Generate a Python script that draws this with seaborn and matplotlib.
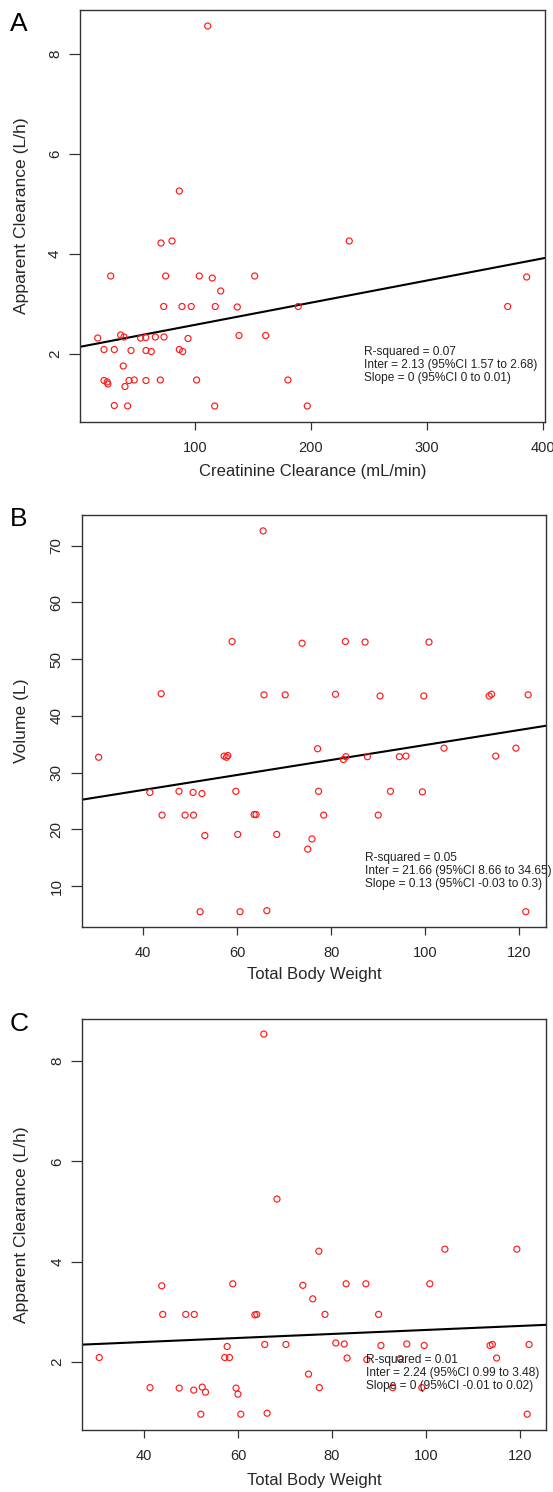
import matplotlib
matplotlib.use("Agg")
import matplotlib.pyplot as plt
import seaborn as sns
import pandas as pd

# ---------------- data ----------------
# Panel A: creatinine clearance vs apparent clearance
a_crcl = [111, 86.5, 70.7, 80.2, 27.3, 74.7, 103.7, 114.9, 122.2, 151.5,
          73, 88.8, 96.8, 117.5, 136.5, 16.1, 35.9, 38.7, 53.1, 57.5,
          65.8, 73.3, 94, 138, 161, 21.5, 30.4, 44.8, 57.7, 62.3,
          86.5, 89.4, 38.1, 21.5, 24.3, 24.9, 39.6, 43.1, 47.6, 57.7,
          70.1, 101.4, 30.4, 41.9, 117, 233.1, 386.2, 369.8, 189.1, 180.2, 196.9]
a_cl = [8.55, 5.25, 4.21, 4.25, 3.55, 3.55, 3.55, 3.51, 3.25, 3.55,
        2.94, 2.94, 2.94, 2.94, 2.93, 2.31, 2.37, 2.33, 2.31, 2.32,
        2.33, 2.33, 2.30, 2.36, 2.36, 2.08, 2.08, 2.06, 2.06, 2.04,
        2.08, 2.04, 1.75, 1.46, 1.43, 1.39, 1.34, 1.46, 1.47, 1.46,
        1.47, 1.47, 0.96, 0.95, 0.95, 4.25, 3.53, 2.94, 2.94, 1.47, 0.95]

# Panel B: total body weight vs volume
b_tbw = [65.5, 58.9, 43.8, 65.7, 73.8, 83.0, 87.2, 100.8, 70.2, 80.9,
         90.4, 99.7, 113.6, 114.1, 121.9, 30.5, 57.2, 58.0, 57.7, 41.4,
         47.6, 50.6, 52.5, 59.7, 44.0, 48.9, 50.7, 63.6, 64.0, 53.1,
         60.1, 68.4, 52.1, 60.6, 66.3, 77.1, 82.6, 83.1, 87.7, 94.5,
         95.9, 104.0, 115.0, 119.3, 77.3, 92.6, 99.4, 78.4, 90.0, 75.9,
         75.0, 121.4]
b_vol = [72.6, 53.1, 43.9, 43.7, 52.8, 53.1, 53.0, 53.0, 43.7, 43.8,
         43.5, 43.5, 43.5, 43.8, 43.7, 32.7, 32.9, 33.0, 32.7, 26.5,
         26.7, 26.5, 26.3, 26.7, 22.5, 22.5, 22.5, 22.6, 22.6, 18.9,
         19.1, 19.1, 5.47, 5.47, 5.65, 34.2, 32.3, 32.8, 32.8, 32.8,
         32.9, 34.3, 32.9, 34.3, 26.7, 26.7, 26.6, 22.5, 22.5, 18.3,
         16.5, 5.47]

# Panel C: total body weight vs apparent clearance
c_tbw = [65.5, 68.3, 43.8, 58.9, 44.0, 48.9, 50.7, 63.6, 64.0, 57.7,
         65.7, 30.5, 57.2, 58.2, 41.3, 47.5, 50.6, 52.4, 53.1, 59.6,
         60.0, 52.1, 60.6, 66.2, 77.2, 104.0, 119.3, 73.8, 83.0, 87.2,
         100.8, 75.9, 78.5, 89.9, 70.2, 80.8, 82.6, 90.4, 95.9, 99.6,
         113.6, 114.1, 121.9, 83.2, 87.4, 94.5, 115.0, 75.0, 77.3, 92.9,
         99.1, 121.5]
c_cl = [8.54, 5.25, 3.52, 3.56, 2.95, 2.95, 2.95, 2.94, 2.95, 2.31,
        2.35, 2.09, 2.09, 2.09, 1.49, 1.48, 1.44, 1.50, 1.40, 1.48,
        1.36, 0.96, 0.96, 0.98, 4.21, 4.25, 4.25, 3.53, 3.56, 3.56,
        3.56, 3.26, 2.95, 2.95, 2.35, 2.38, 2.36, 2.33, 2.36, 2.33,
        2.33, 2.35, 2.35, 2.08, 2.05, 2.07, 2.08, 1.76, 1.49, 1.49,
        1.49, 0.96]

# regression lines (intercept, slope)
a_fit = (2.13, 0.00443)
b_fit = (21.66, 0.132)
c_fit = (2.24, 0.0040)

a_text = ["R-squared = 0.07", "Inter = 2.13 (95%CI 1.57 to 2.68)", "Slope = 0 (95%CI 0 to 0.01)"]
b_text = ["R-squared = 0.05", "Inter = 21.66 (95%CI 8.66 to 34.65)", "Slope = 0.13 (95%CI -0.03 to 0.3)"]
c_text = ["R-squared = 0.01", "Inter = 2.24 (95%CI 0.99 to 3.48)", "Slope = 0 (95%CI -0.01 to 0.02)"]

a_xticks = [100, 200, 300, 400]
bc_xticks = [40, 60, 80, 100, 120]
cl_yticks = [2, 4, 6, 8]
vol_yticks = [10, 20, 30, 40, 50, 60, 70]

# ---------------- figure ----------------
sns.set_style("ticks")
plt.rcParams["font.family"] = ["Liberation Sans", "DejaVu Sans"]

W, H = 553, 1492
fig = plt.figure(figsize=(W / 100, H / 100), dpi=100)


def px_axes(left, top, right, bottom):
    return fig.add_axes([left / W, 1 - bottom / H, (right - left) / W, (bottom - top) / H])


panels = [
    dict(box=(80, 10, 545, 422), x=a_crcl, y=a_cl, fit=a_fit, text=a_text,
         xlim=(0.8, 402), ylim=(0.63, 8.87), xticks=a_xticks, yticks=cl_yticks,
         xlabel="Creatinine Clearance (mL/min)", ylabel="Apparent Clearance (L/h)",
         letter="A", letter_top=12, xl_top=464, txt=(364.3, 346)),
    dict(box=(81.7, 515, 546, 926.7), x=b_tbw, y=b_vol, fit=b_fit, text=b_text,
         xlim=(26.9, 125.7), ylim=(2.83, 75.4), xticks=bc_xticks, yticks=vol_yticks,
         xlabel="Total Body Weight", ylabel="Volume (L)",
         letter="B", letter_top=507, xl_top=967, txt=(365, 851.5)),
    dict(box=(82.3, 1019, 546, 1430), x=c_tbw, y=c_cl, fit=c_fit, text=c_text,
         xlim=(26.9, 125.5), ylim=(0.645, 8.84), xticks=bc_xticks, yticks=cl_yticks,
         xlabel="Total Body Weight", ylabel="Apparent Clearance (L/h)",
         letter="C", letter_top=1012, xl_top=1473, txt=(365.7, 1354)),
]

for p in panels:
    l, t, r, b = p["box"]
    ax = px_axes(l, t, r, b)
    df = pd.DataFrame({"x": p["x"], "y": p["y"]})
    sns.scatterplot(data=df, x="x", y="y", ax=ax, marker="o", s=19,
                    facecolor="none", edgecolor="#ff1a1a", linewidth=0.85,
                    zorder=3)
    ax.set_xlim(*p["xlim"])
    ax.set_ylim(*p["ylim"])
    inter, slope = p["fit"]
    ax.axline((0, inter), slope=slope, color="black", lw=1.5, zorder=2)

    ax.set_xticks(p["xticks"])
    ax.set_yticks(p["yticks"])
    ax.tick_params(axis="x", length=6, width=0.9, pad=8, labelsize=10.5, color="#333333")
    ax.tick_params(axis="y", length=8, width=0.9, pad=5, labelsize=11, color="#333333",
                   labelrotation=90)
    for lab in ax.get_yticklabels():
        lab.set_va("center")
    for s in ax.spines.values():
        s.set_color("#333333")
        s.set_linewidth(1.0)

    ax.set_xlabel(p["xlabel"], fontsize=12)
    ax.set_ylabel(p["ylabel"], fontsize=12.6)
    ax.xaxis.set_label_coords(0.5, -(p["xl_top"] - b) / (b - t))
    ax.yaxis.set_label_coords((29 - l) / (r - l), 0.5)

    tx, ty = p["txt"]
    ax.text((tx - l) / (r - l), (b - ty) / (b - t), "\n".join(p["text"]),
            transform=ax.transAxes, ha="left", va="top", fontsize=8.6,
            linespacing=1.12, color="#222222", zorder=4)

    fig.text(10 / W, 1 - p["letter_top"] / H, p["letter"], fontsize=19,
             ha="left", va="top", color="black")

fig.savefig("out.png", dpi=100, facecolor="white")
